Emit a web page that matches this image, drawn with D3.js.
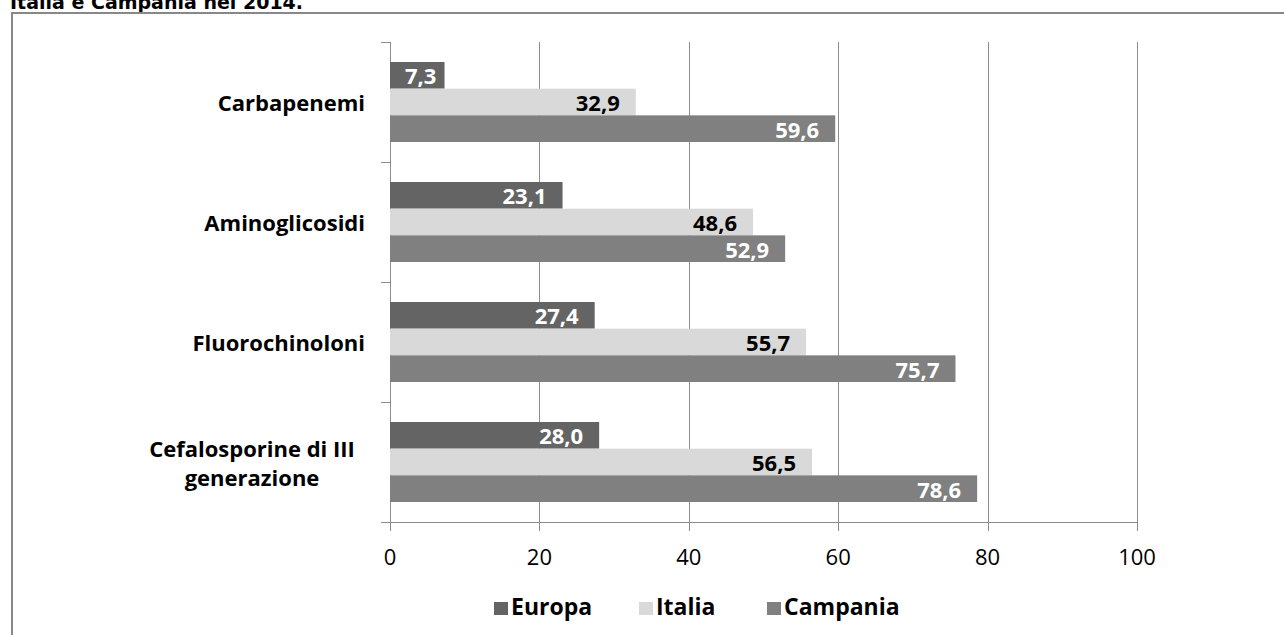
<!DOCTYPE html>
<html><head><meta charset="utf-8">
<script src="https://cdn.jsdelivr.net/npm/d3@7"></script>
<style>body{margin:0;background:#fff}svg{display:block}</style>
</head><body>
<svg id="c" width="1284" height="635"></svg>
<script>
const categories = ["Carbapenemi","Aminoglicosidi","Fluorochinoloni","Cefalosporine di III generazione"];
const seriesNames = ["Europa","Italia","Campania"];
const europa = [7.3, 23.1, 27.4, 28.0];
const italia = [32.9, 48.6, 55.7, 56.5];
const campania = [59.6, 52.9, 75.7, 78.6];
const xTicks = [0,20,40,60,80,100];
const colors = ["#646464","#d9d9d9","#808080"];
const labelColors = ["#fff","#000","#fff"];
const seriesVals = [europa, italia, campania];

const svg = d3.select("#c");
const font = "'Open Sans', Lato, sans-serif";

svg.append("text").attr("x",10).attr("y",9).attr("font-family","'DejaVu Sans', Verdana, sans-serif")
  .attr("font-weight","bold").attr("font-size",19).text("Italia e Campania nel 2014.");
svg.append("rect").attr("x",12).attr("y",13).attr("width",1290).attr("height",640)
  .attr("fill","none").attr("stroke","#888").attr("stroke-width",2);

const x = d3.scaleLinear().domain([0,100]).range([390,1137]);
const y = d3.scaleBand().domain(categories).range([42,522]);
const yInner = d3.scaleBand().domain(seriesNames).range([0,y.bandwidth()]).paddingOuter(0.75).paddingInner(0);

// gridlines
svg.append("g").selectAll("line").data(xTicks).join("line")
  .attr("x1",d=>Math.round(x(d))+0.5).attr("x2",d=>Math.round(x(d))+0.5).attr("y1",42).attr("y2",531)
  .attr("stroke","#8c8c8c").attr("stroke-width",1);
// category ticks
svg.append("g").selectAll("line").data(d3.range(categories.length+1)).join("line")
  .attr("x1",381).attr("x2",390).attr("y1",(d,i)=>Math.round(42+i*y.step())+0.5).attr("y2",(d,i)=>Math.round(42+i*y.step())+0.5)
  .attr("stroke","#8c8c8c");
// x axis line
svg.append("line").attr("x1",381).attr("x2",x(100)).attr("y1",522.5).attr("y2",522.5)
  .attr("stroke","#8c8c8c");

// x tick labels
svg.append("g").selectAll("text").data(xTicks).join("text")
  .attr("x",d=>x(d)).attr("y",565).attr("text-anchor","middle")
  .attr("font-family",font).attr("font-size",22).attr("fill","#000")
  .text(d=>d);

// bars
categories.forEach((cat,ci)=>{
  seriesNames.forEach((s,si)=>{
    const v = seriesVals[si][ci];
    const by = y(cat)+yInner(s);
    svg.append("rect").attr("x",x(0)).attr("y",by).attr("width",x(v)-x(0)).attr("height",yInner.bandwidth())
      .attr("fill",colors[si]);
    const t = svg.append("text").attr("y",by+yInner.bandwidth()/2+9)
      .attr("text-anchor","end").attr("font-family",font).attr("font-weight","bold")
      .attr("font-size",22).attr("fill",labelColors[si]).text(v.toFixed(1).replace(".",","));
    const w = t.node().getComputedTextLength();
    t.attr("x", Math.max(x(v)-16, x(0)+w+15));
  });
});

// category labels
const catLines = {"Cefalosporine di III generazione":["Cefalosporine di III","generazione"]};
categories.forEach(cat=>{
  const lines = catLines[cat] || [cat];
  const cy = y(cat)+y.bandwidth()/2;
  const t = svg.append("text").attr("font-family",font)
    .attr("font-weight","bold").attr("font-size",22).attr("fill","#000");
  const lh = 29;
  lines.forEach((l,i)=>{
    t.append("tspan").attr("x", lines.length>1?252:365).attr("y", cy + 9 + (i-(lines.length-1)/2)*lh).text(l);
  });
  t.attr("text-anchor", lines.length>1?"middle":"end");
});

// legend
const legX = [494,639,767];
seriesNames.forEach((s,i)=>{
  svg.append("rect").attr("x",legX[i]).attr("y",602).attr("width",14).attr("height",13).attr("fill",colors[i]);
  svg.append("text").attr("x",legX[i]+17).attr("y",615).attr("font-family",font).attr("font-weight","bold")
    .attr("font-size",23).attr("fill","#000").text(s);
});
</script>
</body></html>
